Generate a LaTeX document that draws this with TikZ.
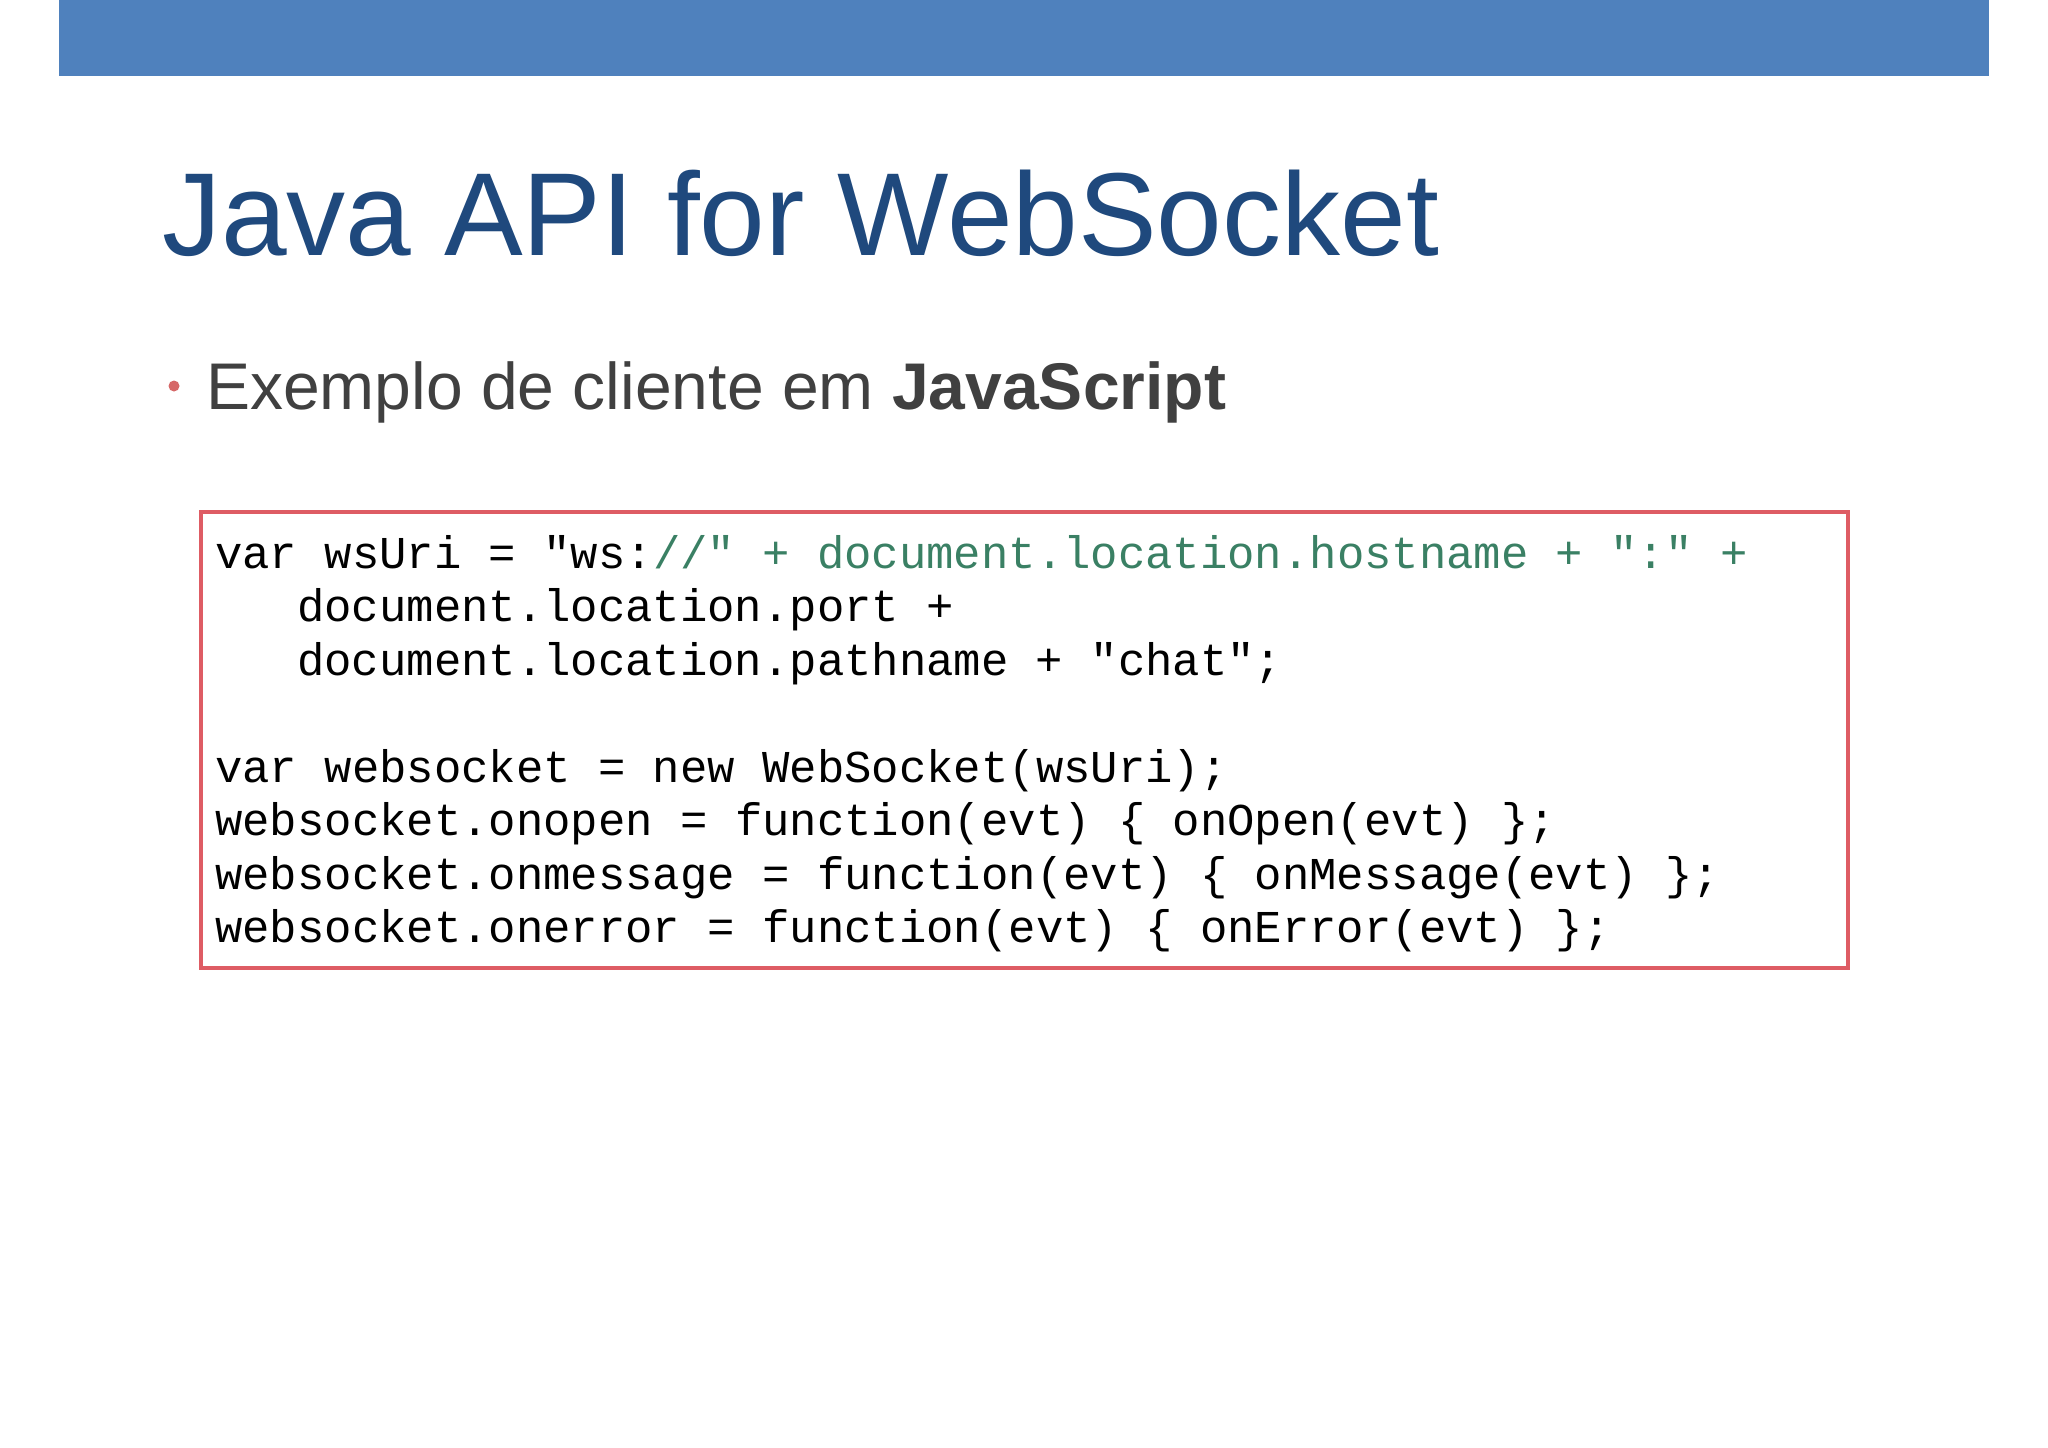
\documentclass[tikz,border=0pt]{standalone}
\usepackage{fontspec}
\setmainfont{Liberation Sans}
\newfontfamily\codefont{Liberation Mono}
\definecolor{barblue}{RGB}{79,129,189}
\definecolor{titleblue}{RGB}{31,73,125}
\definecolor{txtgray}{RGB}{64,64,64}
\definecolor{bulred}{RGB}{214,104,104}
\definecolor{boxred}{RGB}{222,92,100}
\definecolor{codegreen}{RGB}{58,128,100}
\begin{document}
\begin{tikzpicture}[x=1pt,y=-1pt,
  codeline/.style={anchor=base west,inner sep=0pt,font=\codefont\fontsize{45.6}{53.5}\selectfont}]
\useasboundingbox (0,0) rectangle (2048,1448);
\fill[white] (0,0) rectangle (2048,1448);
\fill[barblue] (59,0) rectangle (1989,76);
\node[anchor=base west,inner sep=0pt,text=titleblue,font=\fontsize{118}{130}\selectfont] (title) at (162,255) {Java API for WebSocket};
\node[anchor=base west,inner sep=0pt,text=txtgray,font=\fontsize{66}{75}\selectfont] (sub) at (206,409) {Exemplo de cliente em \textbf{JavaScript}};
\fill[bulred] (174,386) circle (5.5);
\draw[boxred,line width=4pt] (201,512) rectangle (1848,968);
\node[codeline] (l1) at (215,568) {var wsUri = "ws:\textcolor{codegreen}{//" + document.location.hostname + ":" +}};
\node[codeline] (l2) at (297,621.5) {document.location.port +};
\node[codeline] (l3) at (297,675) {document.location.pathname + "chat";};
\node[codeline] (l4) at (215,782) {var websocket = new WebSocket(wsUri);};
\node[codeline] (l5) at (215,835.5) {websocket.onopen = function(evt) \{ onOpen(evt) \};};
\node[codeline] (l6) at (215,889) {websocket.onmessage = function(evt) \{ onMessage(evt) \};};
\node[codeline] (l7) at (215,942.5) {websocket.onerror = function(evt) \{ onError(evt) \};};
\end{tikzpicture}
\end{document}
